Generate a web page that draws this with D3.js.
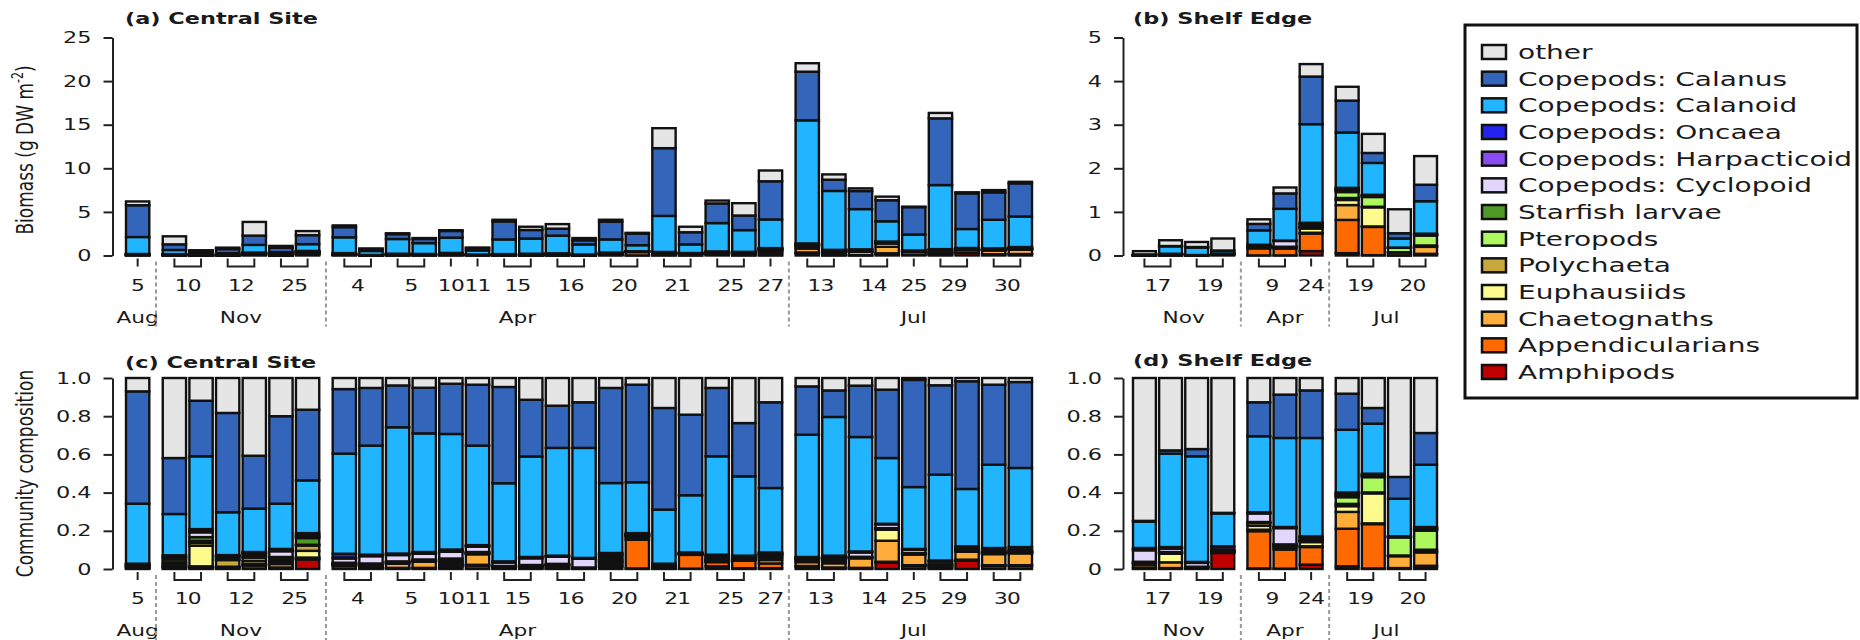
<!DOCTYPE html>
<html>
<head>
<meta charset="utf-8">
<script src="https://cdn.jsdelivr.net/npm/d3@7"></script>
<style>
  body { margin: 0; background: #fff; }
  svg { display: block; }
  text { font-family: "DejaVu Sans", Verdana, sans-serif; fill: #1a1a1a; }
</style>
</head>
<body>
<svg id="chart" width="1860" height="640"></svg>
<script>
// taxa, bottom of each stack -> top
var taxa = ["Amphipods", "Appendicularians", "Chaetognaths", "Euphausiids", "Polychaeta",
  "Pteropods", "Starfish larvae", "Copepods: Cyclopoid", "Copepods: Harpacticoid",
  "Copepods: Oncaea", "Copepods: Calanoid", "Copepods: Calanus", "other"];
var taxaColors = ["#c00000", "#ff6a00", "#ffad3a", "#fdfb8e", "#c8a83c", "#adf75f", "#4e9a27",
  "#e2d6fa", "#8b4bf3", "#2323f0", "#22b5ff", "#3366bb", "#e5e5e5"];

// Central site samples
var centralMonths = ["Aug",
  "Nov", "Nov", "Nov", "Nov", "Nov", "Nov",
  "Apr", "Apr", "Apr", "Apr", "Apr", "Apr", "Apr", "Apr", "Apr", "Apr", "Apr", "Apr", "Apr", "Apr", "Apr", "Apr", "Apr",
  "Jul", "Jul", "Jul", "Jul", "Jul", "Jul", "Jul", "Jul", "Jul"];
var centralDays = ["5",
  "10", "10", "12", "12", "25", "25",
  "4", "4", "5", "5", "10", "11", "15", "15", "16", "16", "20", "20", "21", "21", "25", "25", "27",
  "13", "13", "14", "14", "25", "29", "29", "30", "30"];
// total biomass (g DW m-2)
var centralTotal = [6.2,
  2.2, 0.6, 0.9, 3.85, 1.1, 2.8,
  3.45, 0.8, 2.55, 2.0, 2.9, 0.9, 4.1, 3.3, 3.6, 2.0, 4.1, 2.6, 14.6, 3.3, 6.3, 6.0, 9.75,
  22.05, 9.3, 7.7, 6.75, 5.6, 16.35, 7.25, 7.5, 8.45];
// community composition, one row per sample, same order as taxa
var centralComp = [
  [0.003, 0.003, 0.003, 0, 0.005, 0.002, 0.004, 0.004, 0.002, 0.002, 0.314, 0.588, 0.07],
  [0.005, 0.005, 0.005, 0.005, 0.01, 0.005, 0.015, 0.01, 0.004, 0.008, 0.216, 0.293, 0.419],
  [0.002, 0.004, 0.008, 0.108, 0.015, 0.01, 0.02, 0.025, 0.005, 0.012, 0.381, 0.291, 0.119],
  [0.003, 0.003, 0.004, 0.002, 0.035, 0.003, 0.012, 0.004, 0.002, 0.005, 0.224, 0.52, 0.183],
  [0.018, 0.004, 0.005, 0.015, 0.018, 0.004, 0.012, 0.005, 0.003, 0.005, 0.227, 0.277, 0.407],
  [0.003, 0.005, 0.018, 0.01, 0.01, 0.005, 0.012, 0.03, 0.004, 0.008, 0.237, 0.458, 0.2],
  [0.05, 0.005, 0.005, 0.035, 0.028, 0.004, 0.035, 0.008, 0.006, 0.012, 0.276, 0.37, 0.166],
  [0.017, 0.003, 0.003, 0.002, 0.003, 0.002, 0.003, 0.022, 0.005, 0.02, 0.524, 0.338, 0.058],
  [0.003, 0.003, 0.004, 0.002, 0.003, 0.002, 0.012, 0.038, 0.003, 0.005, 0.571, 0.302, 0.052],
  [0.003, 0.003, 0.022, 0.003, 0.004, 0.002, 0.003, 0.033, 0.003, 0.005, 0.661, 0.219, 0.039],
  [0.003, 0.003, 0.032, 0.002, 0.004, 0.002, 0.004, 0.03, 0.004, 0.005, 0.621, 0.239, 0.051],
  [0.012, 0.006, 0.008, 0.004, 0.01, 0.003, 0.012, 0.035, 0.004, 0.008, 0.605, 0.263, 0.03],
  [0.018, 0.004, 0.055, 0.003, 0.004, 0.002, 0.003, 0.028, 0.003, 0.005, 0.521, 0.319, 0.035],
  [0.003, 0.003, 0.003, 0.001, 0.003, 0.001, 0.002, 0.018, 0.002, 0.004, 0.409, 0.504, 0.047],
  [0.003, 0.004, 0.004, 0.002, 0.003, 0.002, 0.003, 0.035, 0.002, 0.005, 0.526, 0.297, 0.114],
  [0.002, 0.003, 0.012, 0.002, 0.003, 0.002, 0.003, 0.037, 0.002, 0.004, 0.564, 0.221, 0.145],
  [0.001, 0.001, 0.002, 0.001, 0.001, 0.001, 0.001, 0.046, 0.001, 0.003, 0.576, 0.239, 0.127],
  [0.012, 0.008, 0.012, 0.005, 0.008, 0.004, 0.012, 0.012, 0.004, 0.007, 0.366, 0.498, 0.052],
  [0.003, 0.15, 0.012, 0.004, 0.005, 0.002, 0.003, 0.002, 0.002, 0.005, 0.266, 0.511, 0.035],
  [0.002, 0.01, 0.003, 0.001, 0.002, 0.001, 0.002, 0.002, 0.001, 0.004, 0.283, 0.532, 0.157],
  [0.002, 0.072, 0.003, 0.001, 0.002, 0.001, 0.001, 0.001, 0.001, 0.003, 0.299, 0.422, 0.192],
  [0.014, 0.022, 0.004, 0.002, 0.004, 0.002, 0.005, 0.01, 0.004, 0.008, 0.515, 0.358, 0.052],
  [0.004, 0.04, 0.004, 0.002, 0.004, 0.002, 0.003, 0.002, 0.002, 0.007, 0.415, 0.279, 0.236],
  [0.004, 0.025, 0.018, 0.012, 0.006, 0.008, 0.004, 0.002, 0.002, 0.006, 0.337, 0.449, 0.127],
  [0.012, 0.004, 0.02, 0.01, 0.006, 0.002, 0.002, 0.002, 0.001, 0.004, 0.64, 0.253, 0.044],
  [0.003, 0.005, 0.022, 0.005, 0.006, 0.01, 0.002, 0.012, 0.001, 0.004, 0.726, 0.139, 0.065],
  [0.003, 0.003, 0.05, 0.002, 0.003, 0.001, 0.002, 0.023, 0.001, 0.004, 0.599, 0.269, 0.04],
  [0.034, 0.004, 0.11, 0.058, 0.004, 0.002, 0.002, 0.02, 0.001, 0.002, 0.344, 0.358, 0.061],
  [0.016, 0.004, 0.056, 0.002, 0.003, 0.001, 0.002, 0.018, 0.001, 0.002, 0.324, 0.561, 0.01],
  [0.004, 0.003, 0.008, 0.002, 0.005, 0.001, 0.002, 0.014, 0.002, 0.004, 0.449, 0.468, 0.038],
  [0.045, 0.004, 0.042, 0.002, 0.006, 0.001, 0.002, 0.005, 0.004, 0.008, 0.3, 0.564, 0.017],
  [0.017, 0.003, 0.058, 0.002, 0.004, 0.001, 0.002, 0.004, 0.006, 0.013, 0.436, 0.419, 0.035],
  [0.017, 0.003, 0.062, 0.002, 0.004, 0.001, 0.002, 0.004, 0.007, 0.013, 0.414, 0.45, 0.021]
];
// which day label each month name sits under
var centralMonthAt = { Aug: "5", Nov: "12", Apr: "15", Jul: "25" };

// Shelf edge samples
var shelfMonths = ["Nov", "Nov", "Nov", "Nov", "Apr", "Apr", "Apr", "Jul", "Jul", "Jul", "Jul"];
var shelfDays = ["17", "17", "19", "19", "9", "9", "24", "19", "19", "20", "20"];
var shelfTotal = [0.1, 0.35, 0.31, 0.39, 0.83, 1.56, 4.39, 3.87, 2.79, 1.06, 2.28];
var shelfComp = [
  [0.003, 0.005, 0.015, 0.003, 0.008, 0.002, 0.002, 0.06, 0.004, 0.008, 0.138, 0.004, 0.748],
  [0.002, 0.003, 0.03, 0.045, 0.005, 0.002, 0.002, 0.018, 0.003, 0.005, 0.489, 0.017, 0.379],
  [0.002, 0.002, 0.003, 0.001, 0.002, 0.001, 0.001, 0.02, 0.002, 0.003, 0.553, 0.038, 0.372],
  [0.084, 0.003, 0.003, 0.001, 0.003, 0.001, 0.002, 0.003, 0.014, 0.005, 0.172, 0.003, 0.706],
  [0.003, 0.195, 0.008, 0.02, 0.015, 0.002, 0.003, 0.045, 0.002, 0.004, 0.398, 0.178, 0.127],
  [0.002, 0.1, 0.012, 0.004, 0.008, 0.001, 0.002, 0.085, 0.002, 0.004, 0.466, 0.227, 0.087],
  [0.023, 0.092, 0.004, 0.022, 0.006, 0.002, 0.002, 0.012, 0.003, 0.005, 0.515, 0.249, 0.065],
  [0.014, 0.197, 0.088, 0.03, 0.012, 0.035, 0.008, 0.006, 0.004, 0.007, 0.328, 0.189, 0.082],
  [0.003, 0.232, 0.004, 0.157, 0.005, 0.08, 0.006, 0.003, 0.003, 0.006, 0.262, 0.082, 0.157],
  [0.002, 0.003, 0.062, 0.002, 0.002, 0.095, 0.001, 0.001, 0.001, 0.002, 0.197, 0.114, 0.518],
  [0.012, 0.005, 0.07, 0.004, 0.01, 0.1, 0.006, 0.003, 0.003, 0.007, 0.326, 0.166, 0.288]
];

var biomassTicks = [0, 5, 10, 15, 20, 25];
var shelfBiomassTicks = [0, 1, 2, 3, 4, 5];
var compTicks = [0, 0.2, 0.4, 0.6, 0.8, 1.0];

// the source picture is stretched sideways, so text is too
var SX = 1.4;
var GAP = 0.38;   // extra space between month groups, in bar slots
var BARW = 0.875; // bar width, in bar slots

var svg = d3.select("#chart");

function addText(g, x, y, str, size, anchor, weight) {
  return g.append("text")
    .attr("transform", "translate(" + x + "," + y + ") scale(" + SX + ",1)")
    .attr("text-anchor", anchor || "start")
    .style("font-size", size + "px")
    .style("font-weight", weight || "normal")
    .text(str);
}

// slot position of each bar, with a gap whenever the month changes
function slots(months) {
  var grp = 0, out = [];
  months.forEach(function(m, i) {
    if (i > 0 && m !== months[i - 1]) grp++;
    out.push(i + grp * GAP);
  });
  return out;
}

function drawPanel(opt) {
  var pos = slots(opt.months);
  var x = d3.scaleLinear().domain([0, pos[pos.length - 1] + BARW]).range([opt.x0, opt.x1]);
  var y = opt.y;
  var zeroY = y(0);
  var g = svg.append("g");

  // stacked bars
  var layers = d3.stack().keys(d3.range(taxa.length))(opt.rows);
  g.selectAll("g.layer")
    .data(layers)
    .enter()
    .append("g")
    .attr("fill", function(d, i) { return taxaColors[i]; })
    .selectAll("rect")
    .data(function(d) { return d; })
    .enter()
    .append("rect")
    .attr("x", function(d, i) { return x(pos[i]); })
    .attr("width", x(BARW) - x(0))
    .attr("y", function(d) { return y(d[1]); })
    .attr("height", function(d) { return Math.max(0, y(d[0]) - y(d[1])); })
    .attr("stroke", "#111")
    .attr("stroke-width", 2.4);

  // y axis
  var axis = d3.axisLeft(y).tickValues(opt.ticks).tickSize(9).tickSizeOuter(0).tickFormat(opt.fmt);
  var ag = g.append("g")
    .attr("transform", "translate(" + opt.axisX + ",0)")
    .call(axis)
    .attr("font-family", null)
    .attr("font-size", null);
  ag.select(".domain").attr("stroke", "#222").attr("stroke-width", 2);
  ag.selectAll(".tick line").attr("stroke", "#222").attr("stroke-width", 2);
  ag.selectAll(".tick text")
    .attr("x", -21 / SX)
    .attr("transform", "scale(" + SX + ",1)")
    .style("font-size", "16px")
    .attr("fill", "#1a1a1a");

  // runs of bars from the same day -> bracket + label
  var runs = [];
  opt.days.forEach(function(d, i) {
    var last = runs[runs.length - 1];
    if (last && last.day === d && last.month === opt.months[i]) last.end = i;
    else runs.push({ day: d, month: opt.months[i], start: i, end: i });
  });
  function mid(i) { return x(pos[i] + BARW / 2); }
  runs.forEach(function(r) {
    var a = mid(r.start), b = mid(r.end);
    var p = r.start === r.end
      ? "M" + a + "," + (zeroY + 3) + "V" + (zeroY + 11)
      : "M" + a + "," + (zeroY + 3) + "V" + (zeroY + 11) + "H" + b + "V" + (zeroY + 3);
    g.append("path").attr("d", p).attr("fill", "none").attr("stroke", "#222").attr("stroke-width", 2);
    r.cx = (a + b) / 2;
    addText(g, r.cx, zeroY + opt.dayDY, r.day, 15.5, "middle").style("letter-spacing", "-0.5px");
  });

  // month groups
  var groups = [];
  opt.months.forEach(function(m, i) {
    var last = groups[groups.length - 1];
    if (last && last.month === m) last.end = i;
    else groups.push({ month: m, start: i, end: i });
  });
  groups.forEach(function(gr, k) {
    var cx = (x(pos[gr.start]) + x(pos[gr.end] + BARW)) / 2;
    if (opt.monthAt && opt.monthAt[gr.month]) {
      var r = runs.filter(function(r) { return r.month === gr.month && r.day === opt.monthAt[gr.month]; })[0];
      if (r) cx = r.cx;
    }
    addText(g, cx, zeroY + opt.monthDY, gr.month, 15.5, "middle");
    if (k > 0) {
      var xm = (x(pos[groups[k - 1].end] + BARW) + x(pos[gr.start])) / 2;
      g.append("line")
        .attr("x1", xm).attr("x2", xm)
        .attr("y1", zeroY + 6).attr("y2", zeroY + 71)
        .attr("stroke", "#999").attr("stroke-width", 2).attr("stroke-dasharray", "4,3");
    }
  });

  addText(g, opt.titleX, opt.titleY, opt.title, 16, "start", "bold");
}

function fmtComp(d) { return d === 0 ? "0" : d3.format(".1f")(d); }

function scaleRows(comp, total) {
  return comp.map(function(r, i) { return r.map(function(v) { return v * total[i]; }); });
}

var yBiomassA = d3.scaleLinear().domain([0, 25]).range([255.5, 37.5]);
var yBiomassB = d3.scaleLinear().domain([0, 5]).range([255.5, 37.5]);
var yComp = d3.scaleLinear().domain([0, 1]).range([569, 378]);

drawPanel({ months: centralMonths, days: centralDays, rows: scaleRows(centralComp, centralTotal),
  x0: 126, x1: 1032, axisX: 112.5, y: yBiomassA, ticks: biomassTicks, fmt: d3.format("d"),
  title: "(a) Central Site", titleX: 125, titleY: 24, dayDY: 35.5, monthDY: 67.5, monthAt: centralMonthAt });
drawPanel({ months: shelfMonths, days: shelfDays, rows: scaleRows(shelfComp, shelfTotal),
  x0: 1133, x1: 1437, axisX: 1123, y: yBiomassB, ticks: shelfBiomassTicks, fmt: d3.format("d"),
  title: "(b) Shelf Edge", titleX: 1133, titleY: 24, dayDY: 35.5, monthDY: 67.5 });
drawPanel({ months: centralMonths, days: centralDays, rows: centralComp,
  x0: 126, x1: 1032, axisX: 112.5, y: yComp, ticks: compTicks, fmt: fmtComp,
  title: "(c) Central Site", titleX: 125, titleY: 368, dayDY: 35, monthDY: 67, monthAt: centralMonthAt });
drawPanel({ months: shelfMonths, days: shelfDays, rows: shelfComp,
  x0: 1133, x1: 1437, axisX: 1123, y: yComp, ticks: compTicks, fmt: fmtComp,
  title: "(d) Shelf Edge", titleX: 1133, titleY: 366, dayDY: 35, monthDY: 67 });

// y axis titles
var yt1 = svg.append("text")
  .attr("transform", "translate(33," + 150 + ") scale(" + SX + ",1) rotate(-90)")
  .attr("text-anchor", "middle")
  .style("font-size", "17px");
yt1.append("tspan").text("Biomass (g DW m");
yt1.append("tspan").attr("dy", -7).style("font-size", "11px").text("-2");
yt1.append("tspan").attr("dy", 7).text(")");

svg.append("text")
  .attr("transform", "translate(33," + yComp(0.5) + ") scale(" + SX + ",1) rotate(-90)")
  .attr("text-anchor", "middle")
  .style("font-size", "17px")
  .text("Community composition");

// legend
var legend = svg.append("g");
legend.append("rect")
  .attr("x", 1465).attr("y", 25).attr("width", 392).attr("height", 373)
  .attr("fill", "none").attr("stroke", "#111").attr("stroke-width", 3);
var legendOrder = taxa.slice().reverse();
var legendY = d3.scalePoint().domain(legendOrder).range([52, 372]);
legendOrder.forEach(function(name) {
  var i = taxa.indexOf(name);
  legend.append("rect")
    .attr("x", 1482).attr("y", legendY(name) - 7).attr("width", 24).attr("height", 14)
    .attr("fill", taxaColors[i]).attr("stroke", "#111").attr("stroke-width", 2.5);
  addText(legend, 1518, legendY(name) + 7, name, 20, "start");
});
</script>
</body>
</html>
